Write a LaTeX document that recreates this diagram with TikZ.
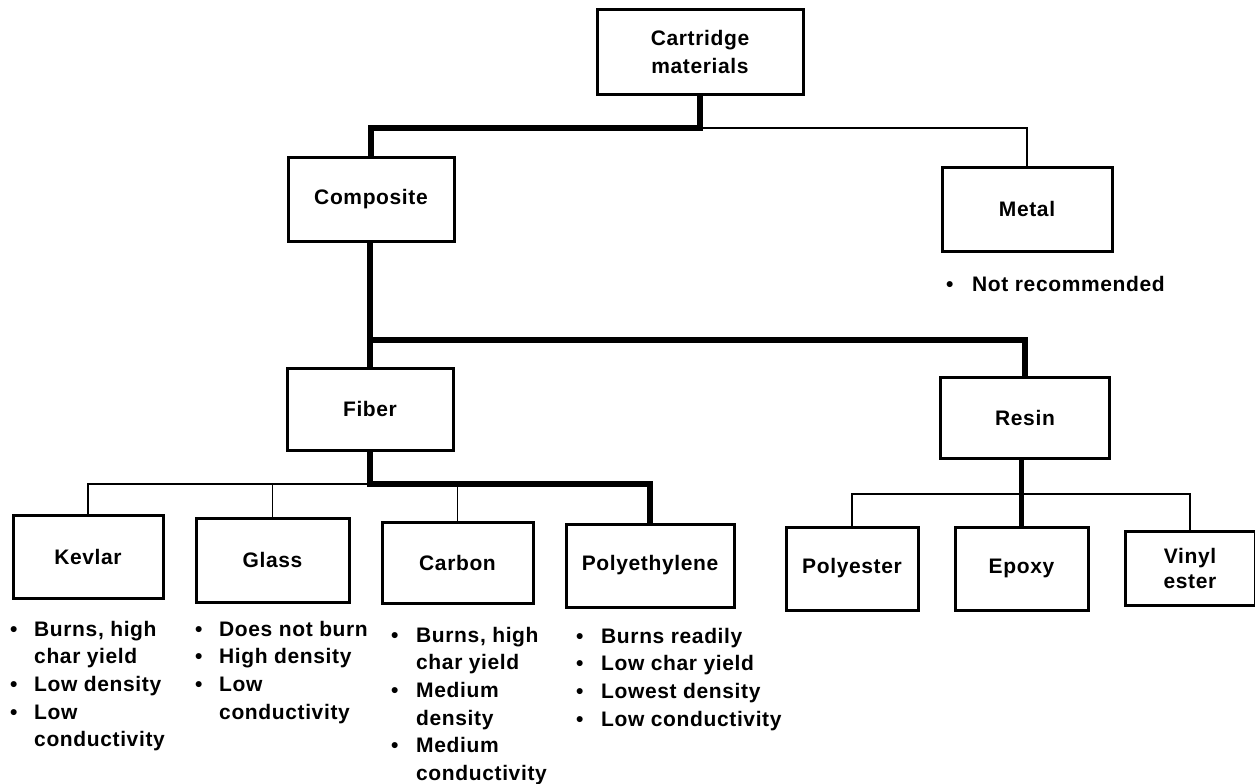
\documentclass[tikz,border=0pt]{standalone}
\usepackage{fontspec}
\setmainfont{Liberation Sans}[LetterSpace=3]
\usetikzlibrary{calc}

\tikzset{
  box/.style={draw, line width=3pt, rectangle, inner sep=0pt, align=center,
              font=\bfseries\fontsize{21}{28}\selectfont},
  list/.style={inner sep=0pt, anchor=base west,
               font=\bfseries\fontsize{21}{27.7}\selectfont},
  thickline/.style={line width=5.5pt, line cap=rect, line join=miter},
  thinline/.style={line width=1.3pt},
}
% bullet list: one row per printed line
\newcommand{\bl}{\textbullet}

\begin{document}
\begin{tikzpicture}[x=1pt, y=-1pt]
\useasboundingbox (0,0) rectangle (1255,784);
\fill[white] (0,0) rectangle (1255,784);

% ---------- boxes ----------
\node[box, minimum width=206pt, minimum height=84pt] (cart) at (700,52) {Cartridge\\materials};
\node[box, minimum width=166pt, minimum height=84pt] (comp) at (371,199) {Composite};
\node[box, minimum width=170pt, minimum height=84pt] (metal) at (1027,209) {Metal};
\node[box, minimum width=166pt, minimum height=82pt] (fiber) at (370,409) {Fiber};
\node[box, minimum width=169pt, minimum height=81pt] (resin) at (1025,417.5) {Resin};

\node[box, minimum width=150pt, minimum height=83pt] (kevlar) at (88,556.5) {Kevlar};
\node[box, minimum width=153pt, minimum height=84pt] (glass) at (272.5,560) {Glass};
\node[box, minimum width=151pt, minimum height=81pt] (carbon) at (457.5,562.5) {Carbon};
\node[box, minimum width=168pt, minimum height=83pt] (poly) at (650,565.5) {Polyethylene};

\node[box, minimum width=132pt, minimum height=83pt] (polyester) at (852,568.5) {Polyester};
\node[box, minimum width=133pt, minimum height=83pt] (epoxy) at (1021.5,568.5) {Epoxy};
\node[box, minimum width=130pt, minimum height=74pt] (vinyl) at (1190,568) {Vinyl\\[-3pt]ester};

% ---------- bus points ----------
\coordinate (top) at (700,128);
\coordinate (mid) at (370,340);
\coordinate (fib) at (370,484);
\coordinate (res) at (1023,494);

% ---------- thin connectors ----------
\draw[thinline] (top) -| (metal.north);
\draw[thinline] (fib) -| (kevlar.north);
\draw[thinline] (fib -| glass.north) -- (glass.north);
\draw[thinline] (fib -| carbon.north) -- (carbon.north);
\draw[thinline] (polyester.north) |- (res) -| (vinyl.north);

% ---------- thick connectors ----------
\draw[thickline] (cart.south) -- (top) -| (comp.north);
\draw[thickline] (comp.south -| fiber.north) -- (fiber.north);
\draw[thickline] (mid) -| (resin.north);
\draw[thickline] (fiber.south) -- (fib) -| (poly.north);
\draw[thickline] (resin.south -| epoxy.north) -- (epoxy.north);

% ---------- property lists ----------
\node[list] (metalnote) at (946,291) {%
  \begin{tabular}[t]{@{}p{26pt}@{}l@{}}
  \bl & Not recommended
  \end{tabular}};

\node[list] (kevlarnote) at (10,636) {%
  \begin{tabular}[t]{@{}p{24pt}@{}l@{}}
  \bl & Burns, high\\
      & char yield\\
  \bl & Low density\\
  \bl & Low\\
      & conductivity
  \end{tabular}};

\node[list] (glassnote) at (195,636) {%
  \begin{tabular}[t]{@{}p{24pt}@{}l@{}}
  \bl & Does not burn\\
  \bl & High density\\
  \bl & Low\\
      & conductivity
  \end{tabular}};

\node[list] (carbonnote) at (391,642) {%
  \begin{tabular}[t]{@{}p{25pt}@{}l@{}}
  \bl & Burns, high\\
      & char yield\\
  \bl & Medium\\
      & density\\
  \bl & Medium\\
      & conductivity
  \end{tabular}};

\node[list] (polynote) at (576,643) {%
  \begin{tabular}[t]{@{}p{25pt}@{}l@{}}
  \bl & Burns readily\\
  \bl & Low char yield\\
  \bl & Lowest density\\
  \bl & Low conductivity
  \end{tabular}};
\end{tikzpicture}
\end{document}
